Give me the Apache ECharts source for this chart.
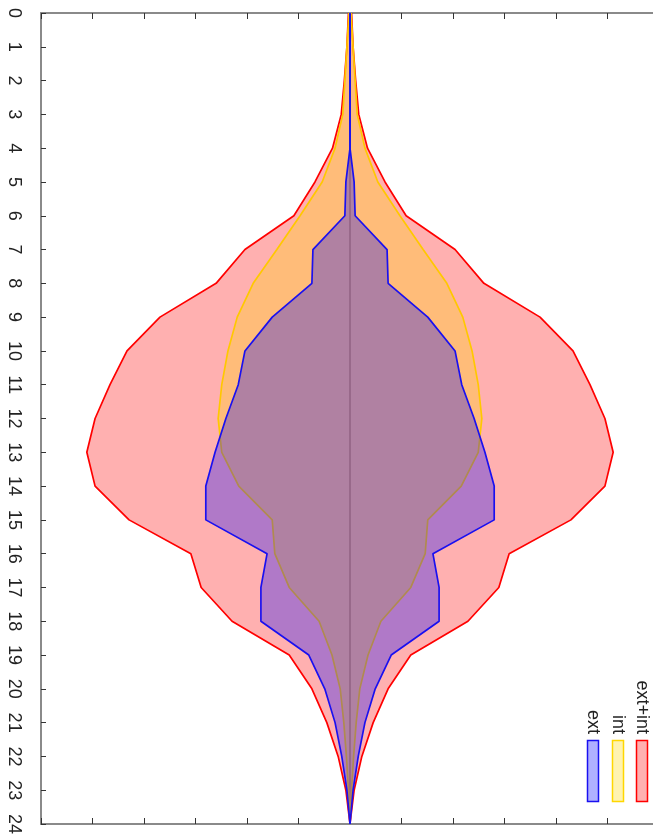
<!DOCTYPE html>
<html>
<head>
<meta charset="utf-8">
<script src="https://cdn.jsdelivr.net/npm/echarts@6/dist/echarts.min.js"></script>
<style>
  html, body { margin: 0; padding: 0; background: #ffffff; }
  #chart { width: 653px; height: 835px; }
</style>
</head>
<body>
<div id="chart"></div>
<script>
// Hours of the day (vertical axis) and half-widths of each profile per hour
const hours = ['0','1','2','3','4','5','6','7','8','9','10','11','12',
               '13','14','15','16','17','18','19','20','21','22','23','24'];

const extInt = [0.3, 0.6, 1.1, 1.7, 3.4, 6.8, 10.9, 20.4, 26.0, 36.9, 43.3, 46.6, 49.5,
                51.1, 49.5, 42.9, 30.9, 28.9, 22.9, 11.8, 7.4, 4.5, 2.3, 0.8, 0];
const intern = [0.2, 0.6, 1.0, 1.4, 2.9, 5.4, 9.7, 14.2, 18.8, 21.9, 23.7, 24.9, 25.6,
                24.9, 21.6, 15.1, 14.6, 11.8, 6.0, 3.5, 1.9, 1.2, 0.7, 0.3, 0];
const extern = [0, 0, 0, 0, 0, 0.8, 1.0, 7.2, 7.4, 15.1, 20.4, 21.7, 24.1,
                26.2, 28.0, 28.0, 16.1, 17.3, 17.3, 8.0, 4.9, 2.9, 1.6, 0.6, 0];

const legendNames = ['ext', 'int', 'ext+int'];

const axisGray = '#8a8a8a';
const tickDark = '#333333';
const font = 'Liberation Sans, Arial, sans-serif';

const profiles = [
  { name: 'ext+int', values: extInt, line: '#ff0000', fill: 'rgba(255,0,0,0.31)', z: 3 },
  { name: 'int',     values: intern, line: '#ffc800', fill: 'rgba(255,215,0,0.31)', z: 4 },
  { name: 'ext',     values: extern, line: '#1a10f0', fill: 'rgba(0,0,255,0.31)', z: 5 }
];

// zero axis through the middle, drawn beneath the translucent profiles
const series = [{
  type: 'line', name: 'zero', z: 2, silent: true, symbol: 'none',
  data: hours.map(() => 0),
  lineStyle: { color: '#9c9c9c', width: 1.5 }
}];
// each profile is mirrored around zero: one half on each side
profiles.forEach(p => {
  [1, -1].forEach(side => {
    series.push({
      type: 'line', name: p.name, z: p.z,
      data: p.values.map(v => side * v),
      symbol: 'none', smooth: false, silent: true,
      lineStyle: { color: p.line, width: 1.7 },
      areaStyle: { color: p.fill, opacity: 1, origin: 0 }
    });
  });
});

const valueAxis = pos => ({
  type: 'value', position: pos, min: -60, max: 60, interval: 10,
  axisLine: { show: true, onZero: false, lineStyle: { color: axisGray, width: 2 } },
  axisTick: { show: true, inside: true, length: 6, lineStyle: { color: tickDark, width: 1 } },
  axisLabel: { show: false },
  splitLine: { show: false }
});

const hourAxis = (pos, labels) => ({
  type: 'category', position: pos, data: hours, inverse: true, boundaryGap: false,
  axisLine: { show: true, onZero: false, lineStyle: { color: axisGray, width: 2 } },
  axisTick: { show: true, inside: true, length: 5, interval: 0, lineStyle: { color: tickDark, width: 1 } },
  axisLabel: labels ? {
    show: true, interval: 0, rotate: -90, margin: 18,
    fontSize: 18, fontFamily: font, color: '#222222'
  } : { show: false },
  splitLine: { show: false }
});

// legend swatches drawn vertically to follow the hour axis direction
const swatches = [
  { name: legendNames[0], x: 587, line: '#1a10f0', fill: 'rgba(0,0,255,0.31)' },
  { name: legendNames[1], x: 612, line: '#ffd700', fill: 'rgba(255,215,0,0.31)' },
  { name: legendNames[2], x: 636, line: '#ff0000', fill: 'rgba(255,0,0,0.31)' }
];
const graphic = [];
swatches.forEach(s => {
  graphic.push({
    type: 'rect', silent: true,
    shape: { x: s.x + 0.5, y: 740.5, width: 11, height: 61 },
    style: { fill: s.fill, stroke: s.line, lineWidth: 1.5 }
  });
  graphic.push({
    type: 'text', silent: true,
    x: s.x + 6, y: 734, rotation: -Math.PI / 2,
    style: {
      text: s.name, fontSize: 18, fontFamily: font, fill: '#222222',
      align: 'right', verticalAlign: 'middle'
    }
  });
});

const chart = echarts.init(document.getElementById('chart'), null, { renderer: 'canvas' });
chart.setOption({
  animation: false,
  backgroundColor: '#ffffff',
  grid: { left: 41, top: 13, right: -6, bottom: 11, containLabel: false, outerBoundsMode: 'none' },
  xAxis: [valueAxis('top'), valueAxis('bottom')],
  yAxis: [hourAxis('left', true), hourAxis('right', false)],
  series: series.map(s => Object.assign({ xAxisIndex: 0, yAxisIndex: 0 }, s)),
  graphic: graphic
});
</script>
</body>
</html>
